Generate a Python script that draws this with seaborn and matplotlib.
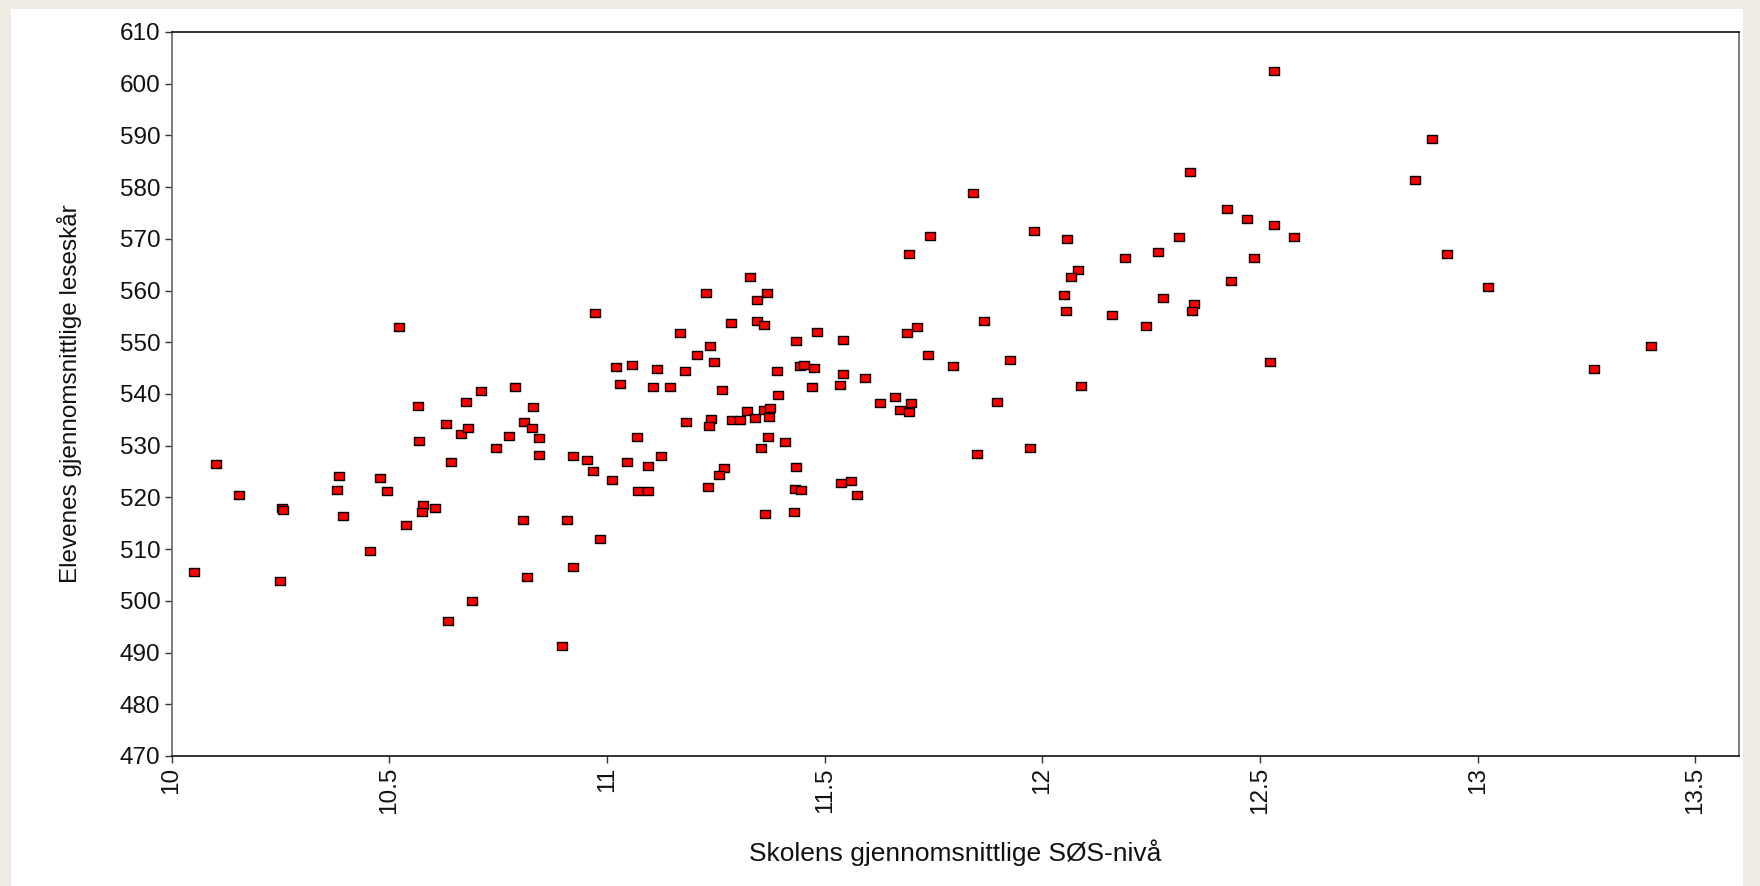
import numpy as np
import pandas as pd
import matplotlib
matplotlib.use("Agg")
import matplotlib.pyplot as plt
from matplotlib.path import Path
from matplotlib.markers import MarkerStyle
from matplotlib.patches import Rectangle
import seaborn as sns

# Skolens gjennomsnittlige SØS-nivå (x) og elevenes leseskår (y), lest av figuren
sos = [
    10.052, 10.102, 10.154, 10.253, 10.256, 10.249, 10.384, 10.380, 10.395, 10.478,
    10.495, 10.455, 10.538, 10.565, 10.568, 10.578, 10.575, 10.605, 10.630, 10.643,
    10.666, 10.676, 10.681, 10.711, 10.690, 10.636, 10.746, 10.775, 10.789, 10.809,
    10.831, 10.829, 10.843, 10.843, 10.807, 10.817, 10.908, 10.921, 10.922, 10.954,
    10.967, 10.985,
    11.694, 11.328, 11.227, 11.367, 11.345, 10.972, 11.285, 11.345, 11.360, 11.713,
    11.689, 11.866, 11.167, 11.483, 11.435, 11.543, 11.237, 11.207, 11.738, 11.794,
    11.247, 11.020, 11.057, 11.116, 11.180, 11.390, 11.443, 11.452, 11.475, 11.543,
    11.593, 11.029, 11.105, 11.144, 11.265, 11.471, 11.536, 11.393, 11.628, 11.661,
    11.698, 11.673, 11.693, 11.895, 11.849, 11.322, 11.360, 11.375, 11.340, 11.373,
    11.288, 11.305, 11.240, 11.235, 11.182, 11.069, 11.370, 11.410, 11.355, 11.045,
    11.095, 11.125, 11.011, 11.072, 11.095, 11.269, 11.258, 11.233, 11.435, 11.433,
    11.446, 11.538, 11.560, 11.574, 11.364, 11.429,
    12.338, 11.840, 12.423, 12.469, 12.531, 12.579, 12.314, 11.980, 12.057, 11.741,
    12.266, 12.190, 12.486, 12.082, 12.065, 12.433, 12.049, 12.054, 12.278, 12.348,
    12.343, 12.160, 12.238, 11.925, 12.524, 12.089, 11.972,
    12.531, 12.895, 12.857, 12.930, 13.024, 13.398, 13.268,
    10.896, 10.523,
]
lese = [
    505.5, 526.5, 520.4, 517.9, 517.6, 503.8, 524.2, 521.5, 516.4, 523.8,
    521.3, 509.7, 514.7, 537.7, 530.9, 518.5, 517.2, 517.9, 534.2, 526.9,
    532.2, 538.4, 533.5, 540.6, 500.0, 496.2, 529.5, 531.8, 541.3, 534.6,
    537.5, 533.5, 531.4, 528.2, 515.6, 504.6, 515.6, 506.5, 528.0, 527.2,
    525.1, 512.0,
    567.0, 562.6, 559.6, 559.6, 558.2, 555.6, 553.7, 554.2, 553.3, 552.9,
    551.8, 554.2, 551.8, 552.0, 550.3, 550.5, 549.3, 547.6, 547.6, 545.5,
    546.1, 545.3, 545.6, 544.9, 544.4, 544.4, 545.5, 545.7, 545.1, 543.8,
    543.0, 541.9, 541.3, 541.3, 540.7, 541.3, 541.7, 539.8, 538.2, 539.5,
    538.2, 536.9, 536.5, 538.4, 528.4, 536.7, 536.9, 537.3, 535.4, 535.6,
    535.0, 535.0, 535.1, 533.9, 534.5, 531.7, 531.6, 530.7, 529.5, 526.8,
    526.1, 528.0, 523.3, 521.3, 521.3, 525.7, 524.4, 522.1, 525.9, 521.7,
    521.5, 522.8, 523.2, 520.4, 516.8, 517.2,
    583.0, 578.8, 575.8, 573.8, 572.7, 570.3, 570.3, 571.6, 570.0, 570.5,
    567.4, 566.3, 566.3, 563.9, 562.6, 561.9, 559.2, 556.0, 558.5, 557.4,
    556.1, 555.2, 553.1, 546.6, 546.1, 541.6, 529.5,
    602.5, 589.4, 581.4, 567.1, 560.7, 549.3, 544.9,
    491.3, 552.9,
]

x_ticks = [10, 10.5, 11, 11.5, 12, 12.5, 13, 13.5]
y_ticks = list(range(470, 611, 10))
x_label = "Skolens gjennomsnittlige SØS-nivå"
y_label = "Elevenes gjennomsnittlige leseskår"

df = pd.DataFrame({"sos": sos, "lese": lese})

sns.set_style("ticks")
plt.rcParams["font.family"] = ["Liberation Sans", "DejaVu Sans"]

fig = plt.figure(figsize=(17.6, 8.86), dpi=100, facecolor="#EFEBE3")
# white panel inside the beige frame
fig.patches.append(Rectangle((11 / 1760, 0), (1743 - 11) / 1760, 1 - 9 / 886,
                             transform=fig.transFigure, facecolor="white",
                             edgecolor="none", zorder=-1))
ax = fig.add_axes([171.5 / 1760, 1 - 756 / 886, (1739 - 171.5) / 1760, (756 - 32) / 886])
ax.set_facecolor("white")

# small, slightly wide rectangle marker
rect = MarkerStyle(Path([(-1, -0.77), (1, -0.77), (1, 0.77), (-1, 0.77), (-1, -0.77)],
                        [Path.MOVETO, Path.LINETO, Path.LINETO, Path.LINETO, Path.CLOSEPOLY]))
sns.scatterplot(data=df, x="sos", y="lese", ax=ax, marker=rect, s=44,
                color="#FF0000", edgecolor="black", linewidth=1.0, zorder=3)

ax.set_xlim(10, 13.6)
ax.set_ylim(470, 610)
ax.set_xticks(x_ticks)
ax.set_xticklabels([f"{v:g}" for v in x_ticks], rotation=90)
ax.set_yticks(y_ticks)
ax.set_yticklabels([str(v) for v in y_ticks])
ax.tick_params(axis="both", labelsize=17.5, length=5, width=1, color="#333333",
               pad=3, labelcolor="#111111")

for side in ["top", "bottom"]:
    ax.spines[side].set_color("#111111")
    ax.spines[side].set_linewidth(1.2)
for side in ["left", "right"]:
    ax.spines[side].set_color("#666666")
    ax.spines[side].set_linewidth(1.2)

ax.set_xlabel(x_label, fontsize=19, color="#111111")
ax.set_ylabel(y_label, fontsize=17.5, color="#111111")
ax.xaxis.set_label_coords(0.5, -0.115)
ax.yaxis.set_label_coords(-0.057, 0.5)

fig.savefig("out.png", dpi=100, facecolor=fig.get_facecolor())
